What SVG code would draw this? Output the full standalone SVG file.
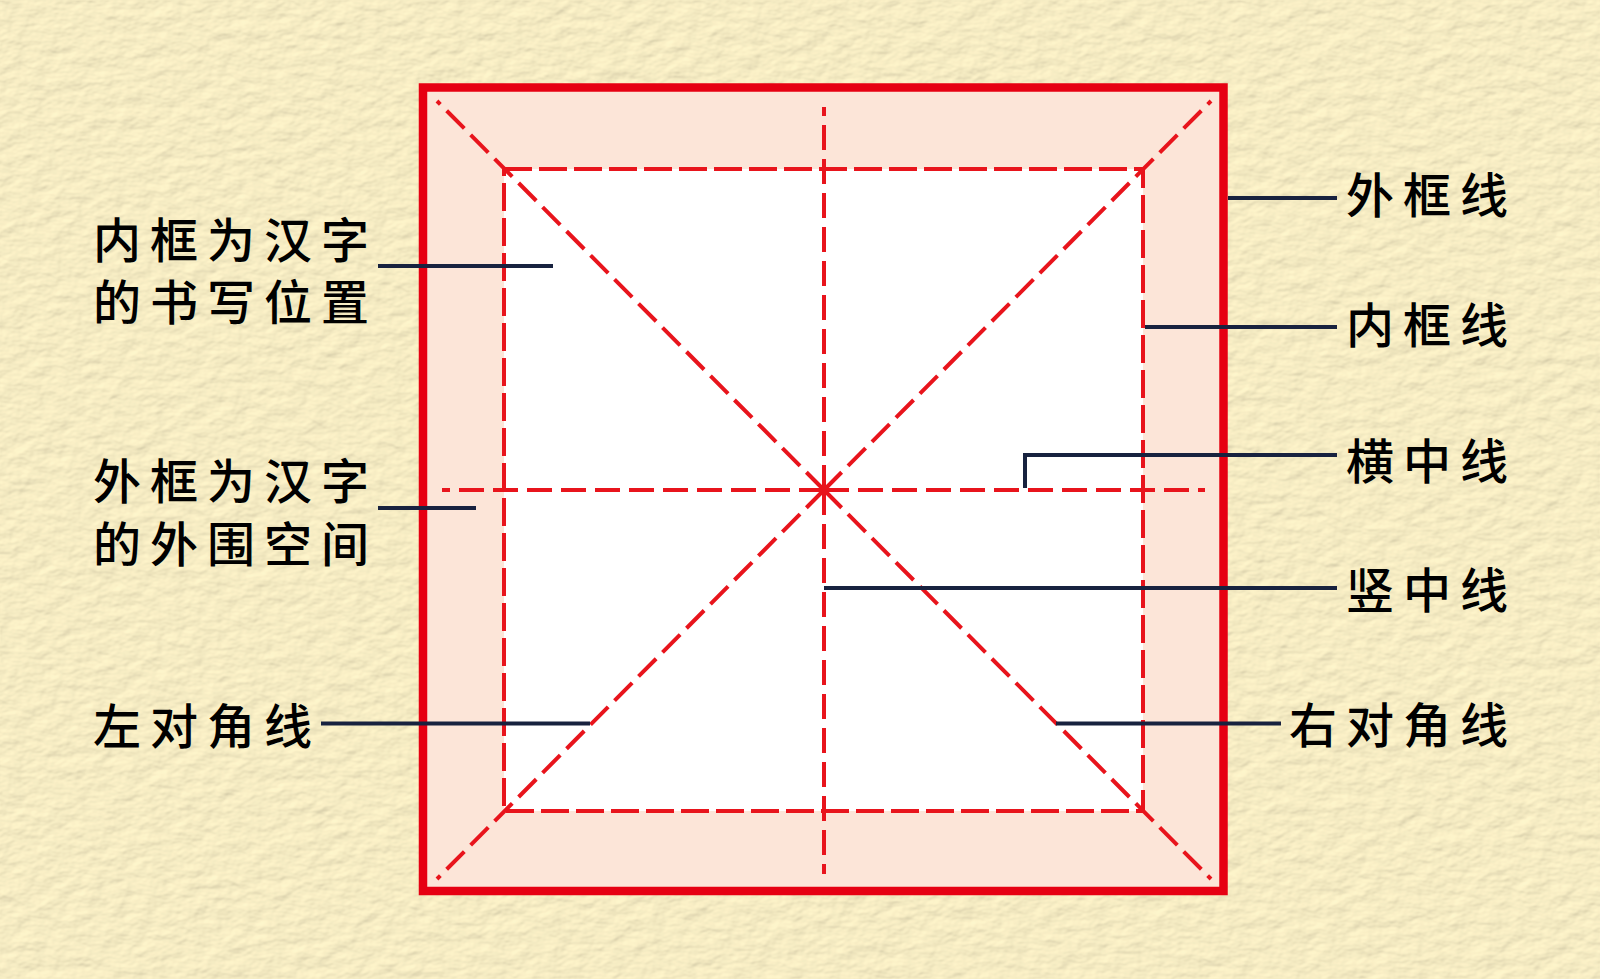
<svg xmlns="http://www.w3.org/2000/svg" width="1600" height="979" viewBox="0 0 1600 979">
<defs>
<filter id="paper" x="0" y="0" width="100%" height="100%" filterUnits="userSpaceOnUse">
<feTurbulence type="fractalNoise" baseFrequency="0.05 0.08" numOctaves="3" seed="7" result="n"/>
<feDiffuseLighting in="n" lighting-color="#FFF5CC" surfaceScale="1.5" diffuseConstant="1.05">
<feDistantLight azimuth="235" elevation="62"/>
</feDiffuseLighting>
</filter>
<style>
.txt{font-family:"Noto Sans CJK SC","Liberation Sans",sans-serif;font-size:48px;font-weight:500;letter-spacing:9px;fill:#000}
.dash{stroke:#E8141C;stroke-width:4;fill:none;stroke-dasharray:25 9}
.lead{stroke:#18223F;stroke-width:4;fill:none}
</style>
</defs>
<g id="background">
<rect x="0" y="0" width="1600" height="979" fill="#F2E4B2"/>
<rect x="0" y="0" width="1600" height="979" filter="url(#paper)" opacity="0.9"/>
</g>
<g id="outer-frame">
<rect x="423" y="87.5" width="800.5" height="803.5" fill="#FCE5D8" stroke="#E60012" stroke-width="8.5"/>
</g>
<g id="inner-frame">
<rect x="504" y="169" width="639" height="642" fill="#FFFFFF"/>
<rect x="504" y="169" width="639" height="642" fill="none" stroke="#E8141C" stroke-width="4" stroke-dasharray="28 7"/>
</g>
<g id="guide-lines">
<path class="dash" d="M824 490 L437 101"/>
<path class="dash" d="M824 490 L1211 101"/>
<path class="dash" d="M824 490 L437 879"/>
<path class="dash" d="M824 490 L1211 879"/>
<path class="dash" d="M824 490 L824 107"/>
<path class="dash" d="M824 490 L824 874"/>
<path class="dash" d="M824 490 L442 490"/>
<path class="dash" d="M824 490 L1205 490"/>
</g>
<g id="connectors">
<path class="lead" d="M1228 198 H1337"/>
<path class="lead" d="M1145 327 H1337"/>
<path class="lead" d="M1025 488 V455 H1337"/>
<path class="lead" d="M824 588 H1337"/>
<path class="lead" d="M1056 723.5 H1281"/>
<path class="lead" d="M321 723.5 H590"/>
<path class="lead" d="M378 266 H553"/>
<path class="lead" d="M378 508 H476"/>
</g>
<g id="label-inner-space">
<text class="txt" x="93" y="258">内框为汉字</text>
<text class="txt" x="93" y="320">的书写位置</text>
</g>
<g id="label-outer-space">
<text class="txt" x="93" y="499">外框为汉字</text>
<text class="txt" x="93" y="562">的外围空间</text>
</g>
<g id="label-left-diagonal">
<text class="txt" x="93" y="744">左对角线</text>
</g>
<g id="label-outer-line">
<text class="txt" x="1346" y="213">外框线</text>
</g>
<g id="label-inner-line">
<text class="txt" x="1346" y="343">内框线</text>
</g>
<g id="label-horizontal">
<text class="txt" x="1346" y="479">横中线</text>
</g>
<g id="label-vertical">
<text class="txt" x="1346" y="608">竖中线</text>
</g>
<g id="label-right-diagonal">
<text class="txt" x="1289" y="743">右对角线</text>
</g>
</svg>
